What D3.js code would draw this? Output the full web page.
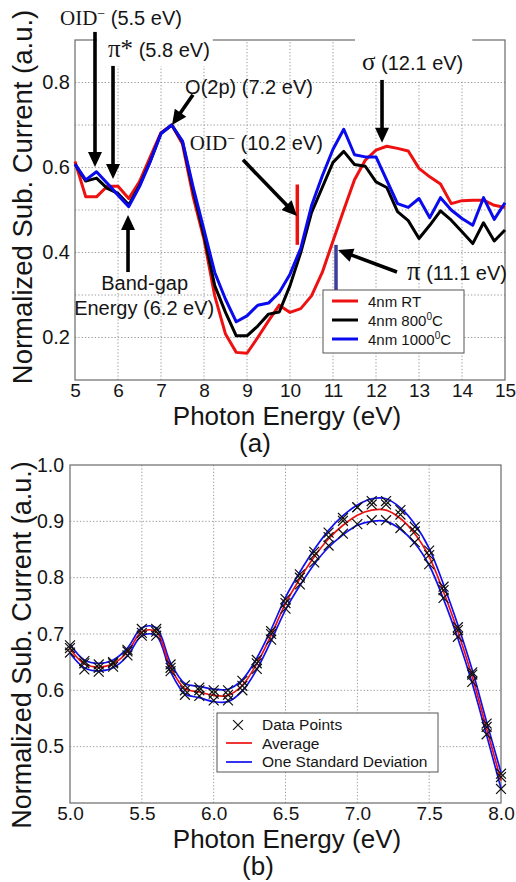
<!DOCTYPE html>
<html lang="en">
<head>
  <meta charset="utf-8">
  <title>Normalized substrate current</title>
  <script src="https://cdn.jsdelivr.net/npm/d3@7"></script>
  <style>
    body { margin: 0; background: #fff; }
    text { font-family: "Liberation Sans", Arial, sans-serif; fill: #151515; }
  </style>
</head>
<body>
<svg width="516" height="882"></svg>
<script>
// ---------- panel (a) data ----------
var energyA = [5, 5.25, 5.5, 5.75, 6, 6.25, 6.5, 6.75, 7, 7.25, 7.5, 7.75, 8, 8.25, 8.5, 8.75,
  9, 9.25, 9.5, 9.75, 10, 10.25, 10.5, 10.75, 11, 11.25, 11.5, 11.75, 12, 12.25, 12.5, 12.75,
  13, 13.25, 13.5, 13.75, 14, 14.25, 14.5, 14.75, 15];
var rt = [0.614, 0.531, 0.531, 0.556, 0.556, 0.527, 0.567, 0.625, 0.682, 0.700, 0.655, 0.530,
  0.431, 0.298, 0.208, 0.165, 0.163, 0.200, 0.239, 0.276, 0.259, 0.268, 0.298, 0.353, 0.427,
  0.500, 0.571, 0.617, 0.641, 0.650, 0.645, 0.639, 0.598, 0.578, 0.561, 0.515, 0.522, 0.523,
  0.523, 0.511, 0.506];
var t800 = [0.608, 0.568, 0.575, 0.551, 0.539, 0.512, 0.558, 0.615, 0.680, 0.700, 0.660, 0.545,
  0.440, 0.322, 0.259, 0.204, 0.204, 0.227, 0.255, 0.260, 0.322, 0.400, 0.494, 0.553, 0.612,
  0.638, 0.607, 0.603, 0.566, 0.553, 0.496, 0.475, 0.433, 0.464, 0.498, 0.476, 0.449, 0.421,
  0.470, 0.427, 0.453];
var t1000 = [0.608, 0.571, 0.590, 0.563, 0.535, 0.508, 0.555, 0.614, 0.680, 0.700, 0.662, 0.553,
  0.453, 0.353, 0.290, 0.237, 0.251, 0.276, 0.281, 0.306, 0.349, 0.410, 0.510, 0.580, 0.643,
  0.690, 0.630, 0.625, 0.625, 0.570, 0.515, 0.506, 0.527, 0.482, 0.529, 0.500, 0.480, 0.464,
  0.529, 0.478, 0.517];
var seriesNamesA = ["4nm RT", "4nm 800", "4nm 1000"];
var xTicksA = [5, 6, 7, 8, 9, 10, 11, 12, 13, 14, 15];
var yGridA = [0.2, 0.3, 0.4, 0.5, 0.6, 0.7, 0.8];
var yLabelsA = [0.2, 0.4, 0.6, 0.8];

// ---------- panel (b) data ----------
var energyB = [5.0, 5.1, 5.2, 5.3, 5.4, 5.5, 5.6, 5.7, 5.8, 5.9, 6.0, 6.1, 6.2, 6.3, 6.4, 6.5,
  6.6, 6.7, 6.8, 6.9, 7.0, 7.1, 7.2, 7.3, 7.4, 7.5, 7.6, 7.7, 7.8, 7.9, 8.0];
var average = [0.674, 0.647, 0.641, 0.647, 0.668, 0.704, 0.704, 0.641, 0.603, 0.597, 0.591,
  0.591, 0.609, 0.647, 0.698, 0.754, 0.798, 0.837, 0.869, 0.893, 0.911, 0.920, 0.920, 0.905,
  0.878, 0.837, 0.775, 0.704, 0.624, 0.532, 0.440];
var upperSd = [0.682, 0.654, 0.648, 0.654, 0.675, 0.711, 0.711, 0.649, 0.612, 0.607, 0.602,
  0.602, 0.619, 0.657, 0.708, 0.765, 0.810, 0.850, 0.884, 0.910, 0.929, 0.940, 0.940, 0.924,
  0.895, 0.852, 0.788, 0.716, 0.636, 0.544, 0.454];
var lowerSd = [0.666, 0.640, 0.634, 0.640, 0.661, 0.697, 0.697, 0.633, 0.594, 0.587, 0.580,
  0.580, 0.599, 0.637, 0.688, 0.743, 0.786, 0.824, 0.854, 0.876, 0.893, 0.900, 0.900, 0.886,
  0.861, 0.822, 0.762, 0.692, 0.612, 0.520, 0.426];
var runA = [0.680, 0.652, 0.646, 0.650, 0.672, 0.709, 0.709, 0.646, 0.609, 0.605, 0.600, 0.600,
  0.617, 0.654, 0.705, 0.762, 0.806, 0.846, 0.880, 0.906, 0.925, 0.936, 0.936, 0.920, 0.890,
  0.848, 0.784, 0.712, 0.632, 0.541, 0.452];
var runB = [0.675, 0.648, 0.640, 0.648, 0.669, 0.702, 0.704, 0.640, 0.600, 0.600, 0.594, 0.592,
  0.608, 0.648, 0.700, 0.755, 0.800, 0.840, 0.872, 0.901, 0.925, 0.930, 0.930, 0.912, 0.882,
  0.840, 0.778, 0.707, 0.628, 0.535, 0.446];
var runC = [0.667, 0.637, 0.633, 0.642, 0.662, 0.697, 0.697, 0.634, 0.592, 0.590, 0.582, 0.582,
  0.600, 0.638, 0.690, 0.745, 0.788, 0.827, 0.857, 0.878, 0.895, 0.902, 0.902, 0.888, 0.863,
  0.824, 0.764, 0.695, 0.615, 0.522, 0.425];
var xTicksB = [5.0, 5.5, 6.0, 6.5, 7.0, 7.5, 8.0];
var yGridB = [0.5, 0.6, 0.7, 0.8, 0.9];
var yLabelsB = [0.5, 0.6, 0.7, 0.8, 0.9, 1.0];

var svg = d3.select("svg");
var gridColor = "#9a9a9a", frameColor = "#6a6a6a";
var crossPath = "M-7,0H7M0,-7V7";

// ---------------- panel (a) ----------------
var xA = d3.scaleLinear().domain([5, 15]).range([75, 505]);
var yA = d3.scaleLinear().domain([0.1, 0.9]).range([380, 40]);
var gA = svg.append("g");

gA.append("g").selectAll("line").data(xTicksA.slice(1, -1)).join("line")
  .attr("x1", d => xA(d)).attr("x2", d => xA(d)).attr("y1", yA(0.1)).attr("y2", yA(0.9))
  .attr("stroke", gridColor).attr("stroke-dasharray", "1.3,2");
gA.append("g").selectAll("line").data(yGridA).join("line")
  .attr("x1", xA(5)).attr("x2", xA(15)).attr("y1", d => yA(d)).attr("y2", d => yA(d))
  .attr("stroke", gridColor).attr("stroke-dasharray", "1.3,2");

// frame
gA.append("rect").attr("x", xA(5)).attr("y", yA(0.9))
  .attr("width", xA(15) - xA(5)).attr("height", yA(0.1) - yA(0.9))
  .attr("fill", "none").attr("stroke", frameColor).attr("stroke-width", 1.2);

// tick labels
gA.append("g").attr("transform", "translate(0," + yA(0.1) + ")")
  .call(d3.axisBottom(xA).tickValues(xTicksA).tickSize(0).tickPadding(4).tickFormat(d3.format("d")))
  .call(g => g.select(".domain").remove())
  .call(g => g.selectAll("text").attr("font-size", 19).attr("font-family", null));
gA.append("g").attr("transform", "translate(" + xA(5) + ",0)")
  .call(d3.axisLeft(yA).tickValues(yLabelsA).tickSize(0).tickPadding(5).tickFormat(d3.format(".1f")))
  .call(g => g.select(".domain").remove())
  .call(g => g.selectAll("text").attr("font-size", 20).attr("font-family", null));

var lineA = d3.line().x((d, i) => xA(energyA[i])).y(d => yA(d));
var seriesA = [
  { name: seriesNamesA[0], values: rt, color: "#ee1111" },
  { name: seriesNamesA[1], values: t800, color: "#000000" },
  { name: seriesNamesA[2], values: t1000, color: "#0a0aee" }
];
gA.append("g").selectAll("path").data(seriesA).join("path")
  .attr("d", d => lineA(d.values)).attr("fill", "none")
  .attr("stroke", d => d.color).attr("stroke-width", 3).attr("stroke-linejoin", "round");

// marker bars at 10.2 eV and 11.1 eV
gA.append("line").attr("x1", xA(10.17)).attr("x2", xA(10.17))
  .attr("y1", yA(0.56)).attr("y2", yA(0.418))
  .attr("stroke", "#ee1111").attr("stroke-width", 3.5);
gA.append("line").attr("x1", xA(11.07)).attr("x2", xA(11.07))
  .attr("y1", yA(0.418)).attr("y2", yA(0.307))
  .attr("stroke", "#3b3f9a").attr("stroke-width", 3.5);

function arrow(g, e1, v1, e2, v2) {
  var x1 = xA(e1), y1 = yA(v1), x2 = xA(e2), y2 = yA(v2);
  var dx = x2 - x1, dy = y2 - y1, L = Math.hypot(dx, dy), ux = dx / L, uy = dy / L;
  var hl = 15, hw = 7;
  var bx = x2 - ux * hl, by = y2 - uy * hl;
  g.append("line").attr("x1", x1).attr("y1", y1).attr("x2", bx + ux).attr("y2", by + uy)
    .attr("stroke", "#000").attr("stroke-width", 3.6);
  g.append("polygon").attr("fill", "#000")
    .attr("points", [[x2, y2], [bx - uy * hw, by + ux * hw], [bx + uy * hw, by - ux * hw]].join(" "));
}

// label with optional white box
function label(g, e, v, parts, anchor, pad) {
  var grp = g.append("g");
  var t = grp.append("text").attr("x", xA(e)).attr("y", yA(v))
    .attr("text-anchor", anchor || "start").attr("font-size", 20);
  parts.forEach(function (p) {
    var s = t.append("tspan").text(p.t);
    if (p.serif) s.attr("font-family", "'Liberation Serif', 'Times New Roman', serif");
    if (p.size) s.attr("font-size", p.size);
    if (p.dy) s.attr("dy", p.dy);
  });
  if (pad) {
    var b = t.node().getBBox();
    grp.insert("rect", "text").attr("x", b.x - pad[0]).attr("y", b.y - pad[1])
      .attr("width", b.width + pad[0] + pad[2]).attr("height", b.height + pad[1] + pad[3])
      .attr("fill", "#fff");
  }
}

var gAnn = gA.append("g");
label(gAnn, 4.651, 0.935, [{ t: "OID", serif: true, size: 21 }, { t: "\u2212", serif: true, size: 14, dy: -7 },
  { t: " (5.5 eV)", dy: 7 }]);
label(gAnn, 5.767, 0.860, [{ t: "\u03c0*", serif: true, size: 25 }, { t: " (5.8 eV)" }], "start", [11, 6, 3, 4]);
label(gAnn, 7.56, 0.772, [{ t: "O(2p) (7.2 eV)" }]);
label(gAnn, 7.67, 0.641, [{ t: "OID", serif: true, size: 21 }, { t: "\u2212", serif: true, size: 14, dy: -7 },
  { t: " (10.2 eV)", dy: 7 }]);
label(gAnn, 11.674, 0.829, [{ t: "\u03c3", serif: true, size: 25 }, { t: " (12.1 eV)" }], "start", [7, 16, 9, 6]);
label(gAnn, 12.72, 0.335, [{ t: "\u03c0", serif: true, size: 27 }, { t: " (11.1 eV)" }], "start");
label(gAnn, 6.62, 0.312, [{ t: "Band-gap" }], "middle");
label(gAnn, 4.98, 0.253, [{ t: "Energy (6.2 eV)" }]);

arrow(gAnn, 5.465, 0.919, 5.465, 0.601);
arrow(gAnn, 5.884, 0.839, 5.884, 0.573);
arrow(gAnn, 7.744, 0.771, 7.256, 0.700);
arrow(gAnn, 8.907, 0.618, 10.163, 0.486);
arrow(gAnn, 12.14, 0.806, 12.14, 0.658);
arrow(gAnn, 12.488, 0.354, 11.116, 0.406);
arrow(gAnn, 6.233, 0.354, 6.233, 0.488);

// legend (a)
var legA = gA.append("g").attr("transform", "translate(323,290)");
legA.append("rect").attr("width", 141).attr("height", 63).attr("fill", "#fff")
  .attr("stroke", "#555").attr("stroke-width", 1);
var legItemsA = legA.selectAll("g").data(seriesA).join("g")
  .attr("transform", (d, i) => "translate(0," + (11 + i * 19) + ")");
legItemsA.append("line").attr("x1", 9).attr("x2", 35)
  .attr("stroke", d => d.color).attr("stroke-width", 3);
legItemsA.each(function (d, i) {
  var t = d3.select(this).append("text").attr("x", 45).attr("y", 5.5).attr("font-size", 15);
  if (i === 0) { t.text(d.name); return; }
  t.append("tspan").text(d.name);
  t.append("tspan").text("0").attr("font-size", 10).attr("dy", -6);
  t.append("tspan").text("C").attr("dy", 6);
});

// axis titles (a)
svg.append("text").attr("x", 287).attr("y", 425).attr("text-anchor", "middle")
  .attr("font-size", 26).text("Photon Energy (eV)");
svg.append("text").attr("x", 255).attr("y", 452).attr("text-anchor", "middle")
  .attr("font-size", 26).text("(a)");
svg.append("text").attr("transform", "translate(22,197) rotate(-90)")
  .attr("text-anchor", "middle").attr("dominant-baseline", "central")
  .attr("font-size", 27.5).text("Normalized Sub. Current (a.u.)");

// ---------------- panel (b) ----------------
var xB = d3.scaleLinear().domain([5, 8]).range([70, 501]);
var yB = d3.scaleLinear().domain([0.4, 1.0]).range([803, 465]);
var gB = svg.append("g");

gB.append("g").selectAll("line").data(xTicksB.slice(1, -1)).join("line")
  .attr("x1", d => xB(d)).attr("x2", d => xB(d)).attr("y1", yB(0.4)).attr("y2", yB(1.0))
  .attr("stroke", gridColor).attr("stroke-dasharray", "1.3,2");
gB.append("g").selectAll("line").data(yGridB).join("line")
  .attr("x1", xB(5)).attr("x2", xB(8)).attr("y1", d => yB(d)).attr("y2", d => yB(d))
  .attr("stroke", gridColor).attr("stroke-dasharray", "1.3,2");
gB.append("rect").attr("x", xB(5)).attr("y", yB(1.0))
  .attr("width", xB(8) - xB(5)).attr("height", yB(0.4) - yB(1.0))
  .attr("fill", "none").attr("stroke", frameColor).attr("stroke-width", 1.2);

gB.append("g").attr("transform", "translate(0," + yB(0.4) + ")")
  .call(d3.axisBottom(xB).tickValues(xTicksB).tickSize(0).tickPadding(4).tickFormat(d3.format(".1f")))
  .call(g => g.select(".domain").remove())
  .call(g => g.selectAll("text").attr("font-size", 19).attr("font-family", null));
gB.append("g").attr("transform", "translate(" + xB(5) + ",0)")
  .call(d3.axisLeft(yB).tickValues(yLabelsB).tickSize(0).tickPadding(6).tickFormat(d3.format(".1f")))
  .call(g => g.select(".domain").remove())
  .call(g => g.selectAll("text").attr("font-size", 19.5).attr("font-family", null));

var lineB = d3.line().x((d, i) => xB(energyB[i])).y(d => yB(d)).curve(d3.curveCatmullRom);
gB.append("g").selectAll("path").data([upperSd, lowerSd]).join("path")
  .attr("d", lineB).attr("fill", "none").attr("stroke", "#1010ee").attr("stroke-width", 1.7);
gB.append("path").attr("d", lineB(average)).attr("fill", "none")
  .attr("stroke", "#ee1111").attr("stroke-width", 1.7);

var crossPts = [];
[runA, runB, runC].forEach(function (run) {
  run.forEach(function (v, i) { crossPts.push([energyB[i], v]); });
});
gB.append("g").selectAll("path").data(crossPts).join("path")
  .attr("transform", d => "translate(" + xB(d[0]) + "," + yB(d[1]) + ") rotate(45)")
  .attr("d", crossPath).attr("stroke", "#111").attr("stroke-width", 1.2).attr("fill", "none");

// legend (b)
var legB = gB.append("g").attr("transform", "translate(217,713)");
legB.append("rect").attr("width", 221).attr("height", 59).attr("fill", "#fff")
  .attr("stroke", "#555").attr("stroke-width", 1);
var legNamesB = ["Data Points", "Average", "One Standard Deviation"];
legB.append("path").attr("transform", "translate(21,12) rotate(45)")
  .attr("d", crossPath).attr("stroke", "#111").attr("stroke-width", 1.2);
legB.append("line").attr("x1", 9).attr("x2", 35).attr("y1", 30).attr("y2", 30)
  .attr("stroke", "#ee1111").attr("stroke-width", 1.7);
legB.append("line").attr("x1", 9).attr("x2", 35).attr("y1", 49).attr("y2", 49)
  .attr("stroke", "#1010ee").attr("stroke-width", 1.7);
legB.selectAll("text").data(legNamesB).join("text")
  .attr("x", 45).attr("y", (d, i) => 17 + i * 18.5).attr("font-size", 15.5).text(d => d);

svg.append("text").attr("x", 287).attr("y", 848).attr("text-anchor", "middle")
  .attr("font-size", 26).text("Photon Energy (eV)");
svg.append("text").attr("x", 258).attr("y", 875).attr("text-anchor", "middle")
  .attr("font-size", 26).text("(b)");
svg.append("text").attr("transform", "translate(22,645) rotate(-90)")
  .attr("text-anchor", "middle").attr("dominant-baseline", "central")
  .attr("font-size", 27).text("Normalized Sub. Current (a.u.)");
</script>
</body>
</html>
